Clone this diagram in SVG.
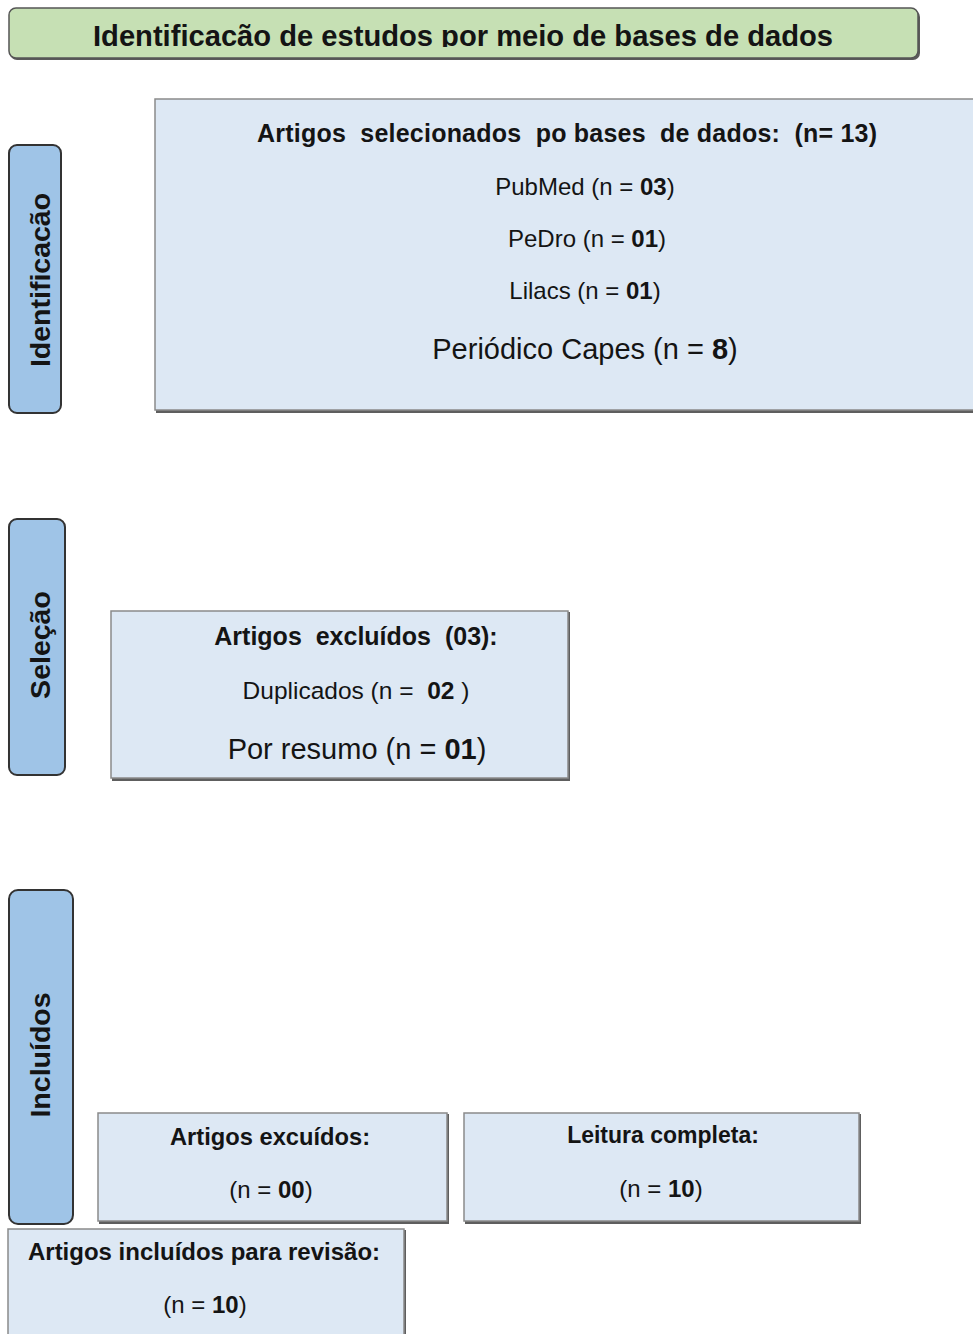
<svg xmlns="http://www.w3.org/2000/svg" width="973" height="1334" viewBox="0 0 973 1334">
<style>
text{font-family:"Liberation Sans",Arial,sans-serif;fill:#141414;}
.b{font-weight:bold;}
.box{fill:#dde8f4;stroke:#8a8a8a;stroke-width:1.5;}
.shadow{fill:#5e5e5e;}
.tab{fill:#9fc4e7;stroke:#333;stroke-width:2;}
.head{fill:#c6e0b4;stroke:#555;stroke-width:1.5;}
</style>
<defs>
<clipPath id="hclip"><rect x="0" y="0" width="973" height="47"/></clipPath>
</defs>
<rect width="973" height="1334" fill="#fff"/>

<g id="header">
<rect x="10" y="10" width="910" height="50" rx="7" fill="#5a5a5a"/>
<rect class="head" x="9" y="8" width="909" height="50" rx="7"/>
<text class="b" x="463" y="46" font-size="29" text-anchor="middle" textLength="740" lengthAdjust="spacingAndGlyphs" clip-path="url(#hclip)">Identificacão de estudos por meio de bases de dados</text>
</g>

<g id="tab-identificacao">
<rect class="tab" x="9" y="145" width="52" height="268" rx="8"/>
<text class="b" font-size="28.5" text-anchor="middle" transform="translate(50,280) rotate(-90)">Identificacão</text>
</g>

<g id="box-selecionados">
<rect class="shadow" x="156" y="100" width="830" height="313"/>
<rect class="box" x="155" y="99" width="830" height="311"/>
<text class="b" x="567" y="142" font-size="25" text-anchor="middle" textLength="620" lengthAdjust="spacing" xml:space="preserve">Artigos  selecionados  po bases  de dados:  (n= 13)</text>
<text x="585" y="195" font-size="24" text-anchor="middle">PubMed (n = <tspan class="b">03</tspan>)</text>
<text x="587" y="247" font-size="24" text-anchor="middle">PeDro (n = <tspan class="b">01</tspan>)</text>
<text x="585" y="299" font-size="24" text-anchor="middle">Lilacs (n = <tspan class="b">01</tspan>)</text>
<text x="585" y="359" font-size="29" text-anchor="middle">Periódico Capes (n = <tspan class="b">8</tspan>)</text>
</g>

<g id="tab-selecao">
<rect class="tab" x="9" y="519" width="56" height="256" rx="8"/>
<text class="b" font-size="28.5" text-anchor="middle" transform="translate(50,645) rotate(-90)">Seleção</text>
</g>

<g id="box-excluidos">
<rect class="shadow" x="112" y="612" width="458" height="169"/>
<rect class="box" x="111" y="611" width="457" height="167"/>
<text class="b" x="356" y="645" font-size="25" text-anchor="middle" xml:space="preserve">Artigos  excluídos  (03):</text>
<text x="356" y="699" font-size="24.5" text-anchor="middle" xml:space="preserve">Duplicados (n =  <tspan class="b">02</tspan> )</text>
<text x="357" y="759" font-size="29" text-anchor="middle">Por resumo (n = <tspan class="b">01</tspan>)</text>
</g>

<g id="tab-incluidos">
<rect class="tab" x="9" y="890" width="64" height="334" rx="9"/>
<text class="b" font-size="28.5" text-anchor="middle" transform="translate(50,1055) rotate(-90)">Incluídos</text>
</g>

<g id="box-excuidos">
<rect class="shadow" x="99" y="1114" width="350" height="110"/>
<rect class="box" x="98" y="1113" width="349" height="108"/>
<text class="b" x="270" y="1145" font-size="23.7" text-anchor="middle">Artigos excuídos:</text>
<text x="271" y="1198" font-size="24" text-anchor="middle">(n = <tspan class="b">00</tspan>)</text>
</g>

<g id="box-leitura">
<rect class="shadow" x="465" y="1114" width="396" height="110"/>
<rect class="box" x="464" y="1113" width="395" height="108"/>
<text class="b" x="663" y="1143" font-size="23" text-anchor="middle">Leitura completa:</text>
<text x="661" y="1197" font-size="24" text-anchor="middle">(n = <tspan class="b">10</tspan>)</text>
</g>

<g id="box-incluidos-revisao">
<rect class="shadow" x="9" y="1230" width="397" height="120"/>
<rect class="box" x="8" y="1229" width="396" height="120"/>
<text class="b" x="204" y="1260" font-size="24" text-anchor="middle">Artigos incluídos para revisão:</text>
<text x="205" y="1313" font-size="24" text-anchor="middle">(n = <tspan class="b">10</tspan>)</text>
</g>

<g id="connectors"></g>
</svg>
